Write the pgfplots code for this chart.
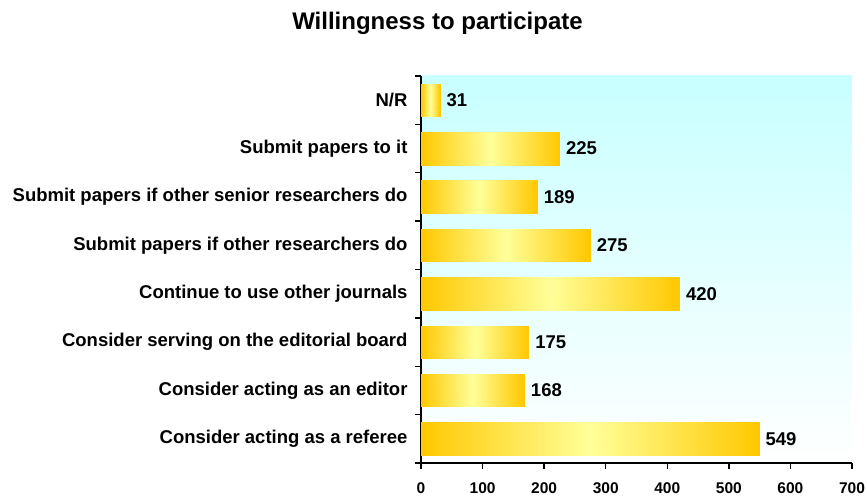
\documentclass[border=0pt]{standalone}
\usepackage{pgfplots}
\pgfplotsset{compat=1.18}
\usepackage{fontspec}
\setmainfont{Liberation Sans}
\definecolor{gold}{HTML}{FFC800}
\definecolor{paleyellow}{HTML}{FFFF99}
\definecolor{bgcyan}{HTML}{C8FFFF}
\begin{document}
\begin{tikzpicture}
\path[use as bounding box] (-421pt,-34pt) rectangle (446pt,463pt);
\node[font=\fontsize{24}{28}\selectfont\bfseries] at (16.5pt,439.5pt) {Willingness to participate};
\begin{axis}[
  scale only axis,
  width=431pt, height=387pt,
  at={(0,0)}, anchor=south west,
  xmin=0, xmax=700,
  ymin=-0.5, ymax=7.5,
  xtick={0,100,...,700},
  ytick={-0.5,0.5,...,7.5},
  yticklabels={},
  extra y ticks={0,...,7},
  extra y tick labels={Consider acting as a referee,Consider acting as an editor,Consider serving on the editorial board,Continue to use other journals,Submit papers if other researchers do,Submit papers if other senior researchers do,Submit papers to it,N/R},
  extra y tick style={major tick length=0pt, yticklabel style={font=\fontsize{18.5}{21}\selectfont\bfseries, xshift=-10pt}},
  axis x line*=bottom, axis y line*=left,
  axis line style={line width=1.8pt, -},
  tick align=outside,
  major tick length=6pt,
  tick style={line width=1.4pt, black},
  xticklabel style={font=\fontsize{15.5}{18}\selectfont\bfseries, yshift=-10pt},
  /pgf/number format/assume math mode=true,
  axis background/.style={top color=bgcyan, bottom color=white},
  colormap={goldbar}{color(0)=(gold) color(0.5)=(paleyellow) color(1)=(gold)},
  point meta min=0, point meta max=1,
  clip=false,
]
\pgfplotsset{goldbar/.style={surf, shader=interp, point meta=explicit, mesh/ordering=x varies, mesh/cols=2}}
\addplot[goldbar] coordinates {(0,-0.341) [0] (549,-0.341) [1]

(0,0.341) [0] (549,0.341) [1]};
\addplot[goldbar] coordinates {(0,0.659) [0] (168,0.659) [1]

(0,1.341) [0] (168,1.341) [1]};
\addplot[goldbar] coordinates {(0,1.659) [0] (175,1.659) [1]

(0,2.341) [0] (175,2.341) [1]};
\addplot[goldbar] coordinates {(0,2.659) [0] (420,2.659) [1]

(0,3.341) [0] (420,3.341) [1]};
\addplot[goldbar] coordinates {(0,3.659) [0] (275,3.659) [1]

(0,4.341) [0] (275,4.341) [1]};
\addplot[goldbar] coordinates {(0,4.659) [0] (189,4.659) [1]

(0,5.341) [0] (189,5.341) [1]};
\addplot[goldbar] coordinates {(0,5.659) [0] (225,5.659) [1]

(0,6.341) [0] (225,6.341) [1]};
\addplot[goldbar] coordinates {(0,6.659) [0] (31,6.659) [1]

(0,7.341) [0] (31,7.341) [1]};
\addplot[draw=none, mark=none, nodes near coords, point meta=x,
  nodes near coords style={font=\fontsize{18.5}{21}\selectfont\bfseries, anchor=west, xshift=3pt, /pgf/number format/assume math mode=true}]
  coordinates {(549,0) (168,1) (175,2) (420,3) (275,4) (189,5) (225,6) (31,7)};
\end{axis}
\end{tikzpicture}
\end{document}
